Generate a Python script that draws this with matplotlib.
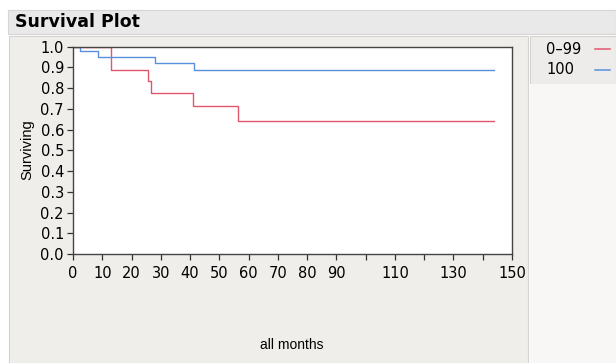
import numpy as np
import matplotlib
matplotlib.use('Agg')
import matplotlib.pyplot as plt
from matplotlib.patches import Rectangle

# Kaplan-Meier steps
red_t = [0, 13, 25.5, 26.5, 41, 56.5, 144]
red_s = [1.0, 0.889, 0.833, 0.778, 0.714, 0.643, 0.643]
blue_t = [0, 2.5, 8.5, 28, 41.5, 144]
blue_s = [1.0, 0.978, 0.951, 0.922, 0.889, 0.889]

groups = ['0\u201399', '100']
colors = ['#e0566c', '#5a8fdd']

xticks = list(range(0, 151, 10))
xlabels = [str(v) if v not in (100, 120, 140) else '' for v in xticks]
yticks = [i / 10 for i in range(11)]

W, H = 616, 363
fig = plt.figure(figsize=(W / 100, H / 100), dpi=100)
fig.patch.set_facecolor('white')


def box(x0, y0, x1, y1, fc, ec='none'):
    # pixel coords, y from top
    r = Rectangle((x0 / W, 1 - y1 / H), (x1 - x0) / W, (y1 - y0) / H,
                  transform=fig.transFigure, facecolor=fc, edgecolor=ec,
                  lw=0.8, zorder=-10)
    fig.patches.append(r)


box(8, 10, 616, 34, '#e9e9e9', '#d6d6d6')
box(9, 36, 528, 363, '#efeeeb', '#d4d3d0')
box(530, 36, 616, 84, '#edecea', '#d4d3d0')
box(530, 84, 616, 363, '#f8f7f5')

fig.text(15 / W, 1 - 22 / H, 'Survival Plot', fontsize=12.5, fontweight='bold',
         va='center', ha='left')

ax = fig.add_axes([73 / W, 1 - 254 / H, (512 - 73) / W, (254 - 46.7) / H])
ax.set_zorder(5)
ax.set_facecolor('white')
ax.step(red_t, red_s, where='post', color=colors[0], lw=1.0)
ax.step(blue_t, blue_s, where='post', color=colors[1], lw=1.0)
ax.set_xlim(0, 150)
ax.set_ylim(0, 1)
ax.set_xticks(xticks)
ax.set_xticklabels(xlabels)
ax.set_yticks(yticks)
ax.set_yticklabels(['%.1f' % v for v in yticks])
ax.tick_params(direction='out', length=4.5, width=0.9, labelsize=10.5,
               color='#333333')
ax.tick_params(axis='x', pad=4.5)
ax.tick_params(axis='y', pad=2)
for s in ax.spines.values():
    s.set_color('#444444')
    s.set_linewidth(1.0)

fig.text(27 / W, 1 - 150 / H, 'Surviving', rotation=90, fontsize=10.5,
         family='Liberation Sans', ha='center', va='center')
fig.text(292 / W, 1 - 345 / H, 'all months', fontsize=10,
         family='Liberation Sans', ha='center', va='center')

# legend
for i, (g, c) in enumerate(zip(groups, colors)):
    y = 1 - (49 + i * 21) / H
    fig.text(546 / W, y, g, fontsize=10.5, ha='left', va='center')
    fig.lines.append(plt.Line2D([595 / W, 610 / W], [y, y], color=c, lw=1.1,
                                transform=fig.transFigure))

fig.savefig('out.png', dpi=100)
